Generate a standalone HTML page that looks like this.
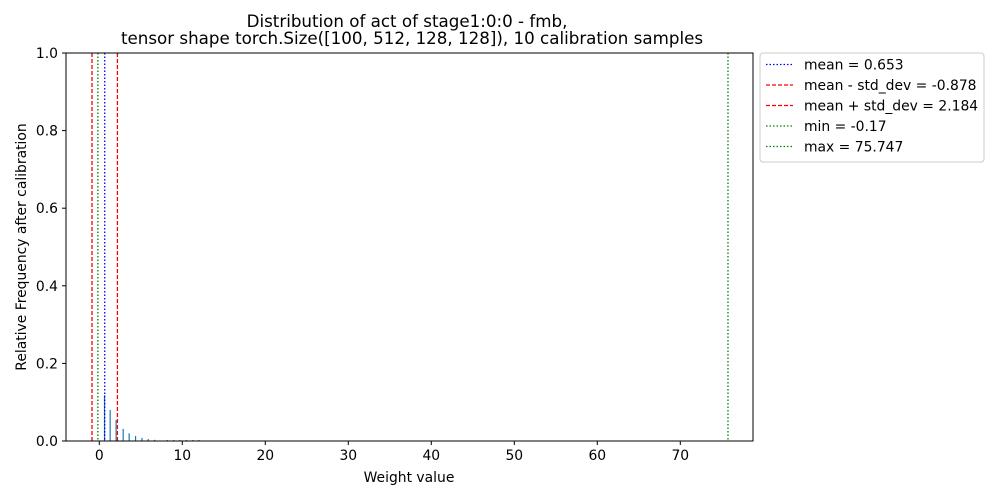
<!DOCTYPE html>
<html><head><meta charset="utf-8"><style>
body{margin:0;background:#fff}
svg{display:block;font-family:"DejaVu Sans","Liberation Sans",sans-serif}
</style></head><body>
<svg id="chart" width="1000" height="500" viewBox="0 0 1000 500" xmlns="http://www.w3.org/2000/svg">
<text x="407" y="27" font-size="16.7" text-anchor="middle">Distribution of act of stage1:0:0 - fmb,</text>
<text x="412" y="44" font-size="16.7" text-anchor="middle">tensor shape torch.Size([100, 512, 128, 128]), 10 calibration samples</text>
<g id="bars"></g>
<g id="vlines"></g>
<rect x="66" y="53" width="687" height="388" fill="none" stroke="#000" stroke-width="1"/>
<g id="xticks"></g>
<g id="yticks"></g>
<text x="409" y="482" font-size="13.9" text-anchor="middle">Weight value</text>
<text transform="translate(26,247) rotate(-90)" font-size="13.9" text-anchor="middle">Relative Frequency after calibration</text>
<g>
<rect x="760" y="53" width="224" height="109" rx="3" fill="#fff" stroke="#ccc"/>
<g id="legend-items"></g>
</g>
</svg>
<script>
const binCenters=[0.63,1.31,2.03,2.88,3.6,4.37,5.14,5.9,6.67,8.2,8.97,9.73,10.5,11.27,12.0];
const binFreqs=[0.118,0.08,0.054,0.031,0.02,0.013,0.008,0.005,0.003,0.001,0.001,0.001,0.001,0.001,0.001];
const xTickVals=[0,10,20,30,40,50,60,70];
const yTickVals=[0,0.2,0.4,0.6,0.8,1.0];
const statLabels=["mean = 0.653","mean - std_dev = -0.878","mean + std_dev = 2.184","min = -0.17","max = 75.747"];
const statValues=[0.653,-0.878,2.184,-0.17,75.747];
const statColors=["#0000ff","#ff0000","#ff0000","#008000","#008000"];
const statDash=["1.5,2","4,2","4,2","1.5,2","1.5,2"];
const NS="http://www.w3.org/2000/svg";
const X0=66,X1=753,Y0=441,Y1=53,XMIN=-4.01,XMAX=78.76;
const sx=v=>X0+(v-XMIN)/(XMAX-XMIN)*(X1-X0);
const sy=v=>Y0-(v-0)/(1-0)*(Y0-Y1);
function mk(t,a){const e=document.createElementNS(NS,t);for(const k in a)e.setAttribute(k,a[k]);return e;}
const bars=document.getElementById('bars');
binCenters.forEach((c,i)=>{const h=Math.max(1,Y0-sy(binFreqs[i]));const r=mk('rect',{x:sx(c)-0.6,y:Y0-h,width:1.2,height:h,fill:'#1f77b4'});


bars.appendChild(r);});
const vl=document.getElementById('vlines');
statValues.forEach((v,i)=>{const l=mk('line',{x1:sx(v),x2:sx(v),y1:Y1,y2:Y0,stroke:statColors[i],'stroke-width':1.3,'stroke-dasharray':statDash[i]});


vl.appendChild(l);});
const xt=document.getElementById('xticks');
xTickVals.forEach(v=>{const x=sx(v);xt.appendChild(mk('line',{x1:x,x2:x,y1:Y0,y2:Y0+4,stroke:'#000'}));
const t=mk('text',{x:x,y:Y0+19,'font-size':13.9,'text-anchor':'middle'});t.textContent=v;


xt.appendChild(t);});
const yt=document.getElementById('yticks');
yTickVals.forEach(v=>{const y=sy(v);yt.appendChild(mk('line',{x1:X0-4,x2:X0,y1:y,y2:y,stroke:'#000'}));
const t=mk('text',{x:X0-8,y:y+5,'font-size':13.9,'text-anchor':'end'});t.textContent=v.toFixed(1);


yt.appendChild(t);});
const lg=document.getElementById('legend-items');
statLabels.forEach((s,i)=>{const y=64.5+i*20.5;
lg.appendChild(mk('line',{x1:766,x2:793,y1:y,y2:y,stroke:statColors[i],'stroke-width':1.3,'stroke-dasharray':statDash[i]}));
const t=mk('text',{x:804,y:y+5,'font-size':13.9});t.textContent=s;


lg.appendChild(t);});
</script>
</body></html>
